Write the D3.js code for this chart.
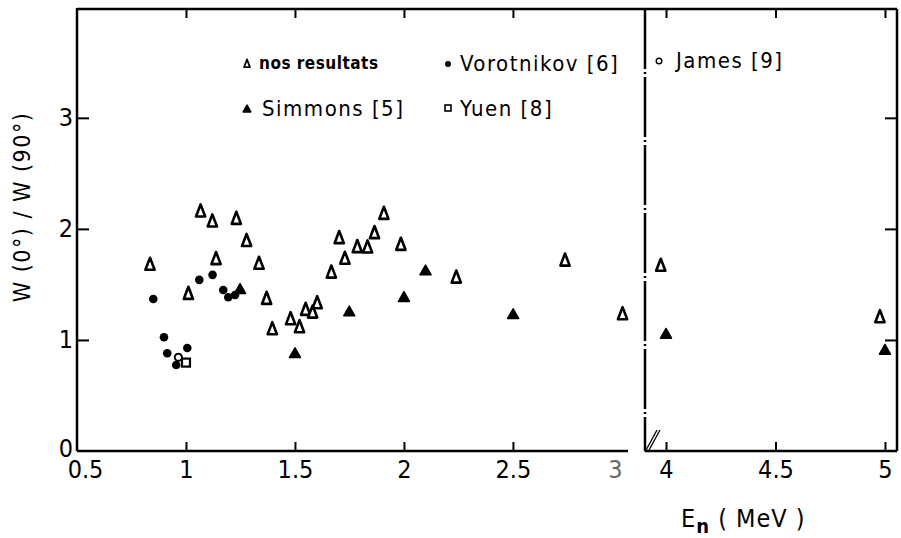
<!DOCTYPE html>
<meta charset="utf-8" />
<script src="https://d3js.org/d3.v7.min.js"></script>
<style>
  body { margin: 0; background: #fff; }
  text { font-family: "DejaVu Sans Condensed", "DejaVu Sans", sans-serif; font-stretch: condensed; fill: #000; }
</style>
<div id="my_dataviz"></div>
<script>
  // data: W(0)/W(90) vs En (MeV)
  var nosX = [0.835, 1.011, 1.067, 1.121, 1.138, 1.231, 1.278, 1.335, 1.370, 1.396, 1.480, 1.521, 1.549, 1.581, 1.602,
              1.667, 1.703, 1.729, 1.786, 1.833, 1.865, 1.908, 1.986, 2.24, 2.739, 3.003, 3.976, 4.977];
  var nosY = [1.676, 1.414, 2.156, 2.066, 1.727, 2.09, 1.89, 1.685, 1.369, 1.096, 1.186, 1.114, 1.27, 1.246, 1.33,
              1.606, 1.916, 1.73, 1.835, 1.832, 1.961, 2.135, 1.856, 1.561, 1.714, 1.231, 1.667, 1.204];
  var simX = [1.248, 1.5, 1.749, 2.0, 2.099, 2.501, 4.0, 5.0];
  var simY = [1.457, 0.88, 1.255, 1.385, 1.625, 1.231, 1.054, 0.91];
  var vorX = [0.850, 0.899, 0.914, 0.955, 1.006, 1.061, 1.122, 1.171, 1.194, 1.225];
  var vorY = [1.369, 1.024, 0.88, 0.775, 0.928, 1.541, 1.586, 1.45, 1.385, 1.405];
  var yuenX = [1.0], yuenY = [0.796];
  var jamesX = [0.965], jamesY = [0.844];

  var xTicksLeft = [0.5, 1, 1.5, 2, 2.5, 3];
  var xTicksRight = [4, 4.5, 5];
  var yTicks = [0, 1, 2, 3];

  var width = 901, height = 538;
  var svg = d3.select('#my_dataviz').append('svg')
    .attr('width', width).attr('height', height);

  // broken x axis: two panels
  var xL = d3.scaleLinear().domain([0.5, 3.083]).range([77, 640]);
  var xR = d3.scaleLinear().domain([3.904, 5.055]).range([645, 897]);
  var y = d3.scaleLinear().domain([0, 3.98]).range([451, 9]);
  function xpos(v) { return v > 3.5 ? xR(v) : xL(v); }

  var lw = 2.5;
  function line(x1, y1, x2, y2, sw, dash) {
    var l = svg.append('line').attr('x1', x1).attr('y1', y1).attr('x2', x2).attr('y2', y2)
      .attr('stroke', '#000').attr('stroke-width', sw || lw);
    if (dash) l.attr('stroke-dasharray', dash);
    return l;
  }

  // frame
  line(xL(0.5), y(3.98), xR(5.055), y(3.98));
  line(xL(0.5), y(3.98) - 1, xL(0.5), y(0));
  line(xR(5.055), y(3.98), xR(5.055), y(0));
  line(xL(0.5), y(0), 628, y(0));
  line(xR.range()[0], y(0), xR(5.055), y(0));
  line(xR.range()[0], y(3.98), xR.range()[0], y(0), 2.5, '60,3,2,3');
  // break marks
  line(645, 452, 657, 430, 1.3);
  line(648, 452, 660, 430, 1.3);

  // bottom axes
  var gbL = svg.append('g').attr('transform', 'translate(0,' + y(0) + ')')
    .call(d3.axisBottom(xL).tickValues(xTicksLeft).tickSize(-9).tickPadding(6)
      .tickFormat(function (d) { return String(d); }));
  var gbR = svg.append('g').attr('transform', 'translate(0,' + y(0) + ')')
    .call(d3.axisBottom(xR).tickValues(xTicksRight).tickSize(-9).tickPadding(6)
      .tickFormat(function (d) { return String(d); }));
  [gbL, gbR].forEach(function (g) {
    g.select('.domain').remove();
    g.selectAll('line').attr('stroke-width', 2);
    g.selectAll('text').style('font-size', '25px').attr('dy', '0.85em');
  });
  gbL.selectAll('.tick').filter(function (d) { return d === 0.5 || d === 3; }).select('line').remove();
  gbL.selectAll('.tick').filter(function (d) { return d === 0.5; }).select('text').attr('dx', 8);
  gbL.selectAll('.tick').filter(function (d) { return d === 3; }).select('text').attr('dx', -7).attr('opacity', 0.6);

  // top ticks
  var gtL = svg.append('g').attr('transform', 'translate(0,' + y(3.98) + ')')
    .call(d3.axisTop(xL).tickValues([1, 1.5, 2, 2.5]).tickSize(-9).tickFormat(''));
  var gtR = svg.append('g').attr('transform', 'translate(0,' + y(3.98) + ')')
    .call(d3.axisTop(xR).tickValues(xTicksRight).tickSize(-9).tickFormat(''));
  [gtL, gtR].forEach(function (g) {
    g.select('.domain').remove();
    g.selectAll('line').attr('stroke-width', 2);
  });

  // y axes
  var gl = svg.append('g').attr('transform', 'translate(' + xL(0.5) + ',0)')
    .call(d3.axisLeft(y).tickValues(yTicks).tickSize(-12).tickPadding(4).tickFormat(d3.format('d')));
  gl.select('.domain').remove();
  gl.selectAll('line').attr('stroke-width', 2);
  gl.selectAll('text').style('font-size', '25px');
  gl.selectAll('.tick').filter(function (d) { return d === 0; }).select('line').remove();
  gl.selectAll('.tick').filter(function (d) { return d === 0; }).select('text').attr('dy', '0.2em');

  var gr = svg.append('g').attr('transform', 'translate(' + xR(5.055) + ',0)')
    .call(d3.axisRight(y).tickValues([1, 2, 3]).tickSize(-12).tickFormat(''));
  gr.select('.domain').remove();
  gr.selectAll('line').attr('stroke-width', 2);

  // axis titles
  svg.append('text')
    .attr('transform', 'translate(30,207)rotate(-90)')
    .attr('text-anchor', 'middle')
    .style('font-size', '23px').style('letter-spacing', '1.5px')
    .text('W (0°) / W (90°)');

  var xt = svg.append('text').attr('x', 681).attr('y', 527).style('font-size', '25px').style('letter-spacing', '1px');
  xt.append('tspan').text('E');
  xt.append('tspan').attr('dy', 6).style('font-size', '20px').style('font-weight', 'bold').text('n');
  xt.append('tspan').attr('dy', -6).text(' ( MeV )');

  // marker shapes
  function openTri(g, s) {
    return g.append('path').attr('d', 'M0,' + (-s * 0.65) + 'L' + (s * 0.42) + ',' + (s * 0.45) + 'L' + (-s * 0.42) + ',' + (s * 0.45) + 'Z')
      .attr('fill', '#fff').attr('stroke', '#000').attr('stroke-width', s > 8 ? 2.6 : 1.8).attr('stroke-linejoin', 'round');
  }
  function fillTri(g, s) {
    return g.append('path').attr('d', 'M0,' + (-s * 0.55) + 'L' + (s * 0.55) + ',' + (s * 0.42) + 'L' + (-s * 0.55) + ',' + (s * 0.42) + 'Z')
      .attr('fill', '#000').attr('stroke', '#000').attr('stroke-width', 1.5).attr('stroke-linejoin', 'round');
  }

  function zip(xs, ys) { return xs.map(function (d, i) { return [d, ys[i]]; }); }

  var pts = svg.append('g');
  pts.selectAll('g.vor').data(zip(vorX, vorY)).enter().append('circle')
    .attr('cx', function (d) { return xpos(d[0]); }).attr('cy', function (d) { return y(d[1]); })
    .attr('r', 4.3).attr('fill', '#000');
  pts.selectAll('g.yuen').data(zip(yuenX, yuenY)).enter().append('rect')
    .attr('x', function (d) { return xpos(d[0]) - 4; }).attr('y', function (d) { return y(d[1]) - 4; })
    .attr('width', 8).attr('height', 8).attr('fill', '#fff').attr('stroke', '#000').attr('stroke-width', 2.2);
  pts.selectAll('g.james').data(zip(jamesX, jamesY)).enter().append('circle')
    .attr('cx', function (d) { return xpos(d[0]); }).attr('cy', function (d) { return y(d[1]); })
    .attr('r', 3.6).attr('fill', '#fff').attr('stroke', '#000').attr('stroke-width', 2);
  pts.selectAll('g.sim').data(zip(simX, simY)).enter().append('g')
    .attr('transform', function (d) { return 'translate(' + xpos(d[0]) + ',' + y(d[1]) + ')'; })
    .each(function () { fillTri(d3.select(this), 10); });
  pts.selectAll('g.nos').data(zip(nosX, nosY)).enter().append('g')
    .attr('transform', function (d) { return 'translate(' + xpos(d[0]) + ',' + y(d[1]) + ')'; })
    .each(function () { openTri(d3.select(this), 11); });

  // legend
  var lg = svg.append('g');
  openTri(lg.append('g').attr('transform', 'translate(247,64)'), 7);
  lg.append('text').attr('x', 259).attr('y', 69).style('font-size', '17px').style('font-weight', 'bold').style('letter-spacing', '0.5px').text('nos resultats');
  lg.append('circle').attr('cx', 448).attr('cy', 64).attr('r', 3).attr('fill', '#000');
  lg.append('text').attr('x', 460).attr('y', 71).style('font-size', '22px').style('letter-spacing', '1.5px').text('Vorotnikov  [6]');
  fillTri(lg.append('g').attr('transform', 'translate(247,109)'), 7);
  lg.append('text').attr('x', 262).attr('y', 116).style('font-size', '22px').style('letter-spacing', '1.5px').text('Simmons  [5]');
  lg.append('rect').attr('x', 445).attr('y', 105).attr('width', 6).attr('height', 6).attr('fill', '#fff').attr('stroke', '#000').attr('stroke-width', 1.6);
  lg.append('text').attr('x', 460).attr('y', 116).style('font-size', '22px').style('letter-spacing', '1.5px').text('Yuen [8]');
  lg.append('circle').attr('cx', 659).attr('cy', 61).attr('r', 2.8).attr('fill', '#fff').attr('stroke', '#000').attr('stroke-width', 1.4);
  lg.append('text').attr('x', 676).attr('y', 68).style('font-size', '22px').style('letter-spacing', '1.5px').text('James  [9]');
</script>
